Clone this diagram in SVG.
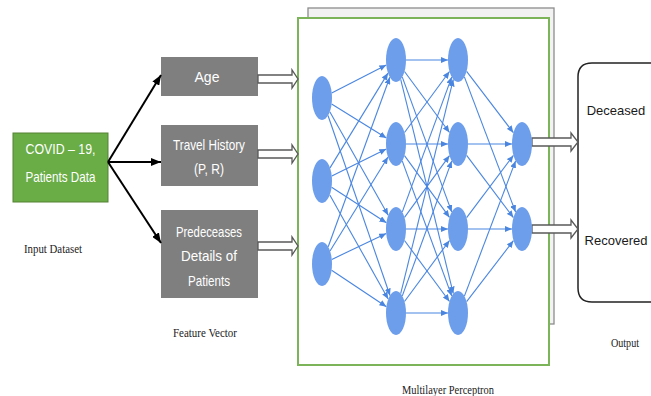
<svg xmlns="http://www.w3.org/2000/svg" width="651" height="396" viewBox="0 0 651 396">
<defs>
<style>
.box{fill:#7f7f7f;}
.bt{font-family:"Liberation Sans",Arial,sans-serif;font-size:15px;fill:#ffffff;text-anchor:middle;}
.lbl{font-family:"Liberation Serif","Times New Roman",serif;font-size:13px;fill:#222;text-anchor:middle;}
.out{font-family:"Liberation Sans",Arial,sans-serif;font-size:13px;fill:#1a1a1a;text-anchor:middle;}
.n{fill:#6d9eeb;}
.e{stroke:#4a86e0;stroke-width:1.1;fill:none;marker-end:url(#ba);}
.k{stroke:#000;stroke-width:2;fill:none;marker-end:url(#ka);}
.h{fill:#fff;stroke:#595959;stroke-width:1.3;}
</style>
<marker id="ba" markerUnits="userSpaceOnUse" markerWidth="7" markerHeight="6" refX="7" refY="3" orient="auto"><path d="M0,0 L7,3 L0,6 z" fill="#4a86e0"/></marker>
<marker id="ka" markerUnits="userSpaceOnUse" markerWidth="10" markerHeight="8" refX="10" refY="4" orient="auto"><path d="M0,0 L10,4 L0,8 z" fill="#000"/></marker>
</defs>
<rect width="651" height="396" fill="#fff"/>

<g id="mlp-back">
<rect x="308" y="8" width="246" height="316" fill="#f2f2f2" stroke="#8c8c8c" stroke-width="1.3"/>
</g>
<g id="mlp-frame">
<rect x="298" y="18" width="251" height="347" fill="#fff" stroke="#7cb45a" stroke-width="2"/>
</g>

<g id="input">
<rect x="13" y="133" width="95" height="69" fill="#6aac46" stroke="#548235" stroke-width="1"/>
<text class="bt" x="60.5" y="154" textLength="70" lengthAdjust="spacingAndGlyphs">COVID – 19,</text>
<text class="bt" x="60.5" y="182" textLength="70" lengthAdjust="spacingAndGlyphs">Patients Data</text>
</g>
<g id="age">
<rect class="box" x="161" y="57" width="97" height="39"/>
<text class="bt" x="207" y="82" textLength="25" lengthAdjust="spacingAndGlyphs">Age</text>
</g>
<g id="travel">
<rect class="box" x="161" y="125" width="97" height="61"/>
<text class="bt" x="209" y="150" textLength="72" lengthAdjust="spacingAndGlyphs">Travel History</text>
<text class="bt" x="209" y="174" textLength="30" lengthAdjust="spacingAndGlyphs">(P, R)</text>
</g>
<g id="pred">
<rect class="box" x="161" y="210" width="97" height="88"/>
<text class="bt" x="209" y="237" textLength="66" lengthAdjust="spacingAndGlyphs">Predeceases</text>
<text class="bt" x="209" y="261" textLength="56" lengthAdjust="spacingAndGlyphs">Details of</text>
<text class="bt" x="209" y="286" textLength="42" lengthAdjust="spacingAndGlyphs">Patients</text>
</g>
<g id="output">
<path d="M651,63 L592,63 Q578,63 578,77 L578,288 Q578,302 592,302 L651,302" fill="#fff" stroke="#222" stroke-width="1.5"/>
<text class="out" x="616" y="115">Deceased</text>
<text class="out" x="616" y="245">Recovered</text>
</g>

<g id="labels">
<text class="lbl" x="53" y="253" textLength="58" lengthAdjust="spacingAndGlyphs">Input Dataset</text>
<text class="lbl" x="205" y="337" textLength="64" lengthAdjust="spacingAndGlyphs">Feature Vector</text>
<text class="lbl" x="448" y="394" textLength="92" lengthAdjust="spacingAndGlyphs">Multilayer Perceptron</text>
<text class="lbl" x="625" y="347" textLength="28" lengthAdjust="spacingAndGlyphs">Output</text>
</g>

<g id="connectors">
<path class="k" d="M108,162 L161,75"/>
<path class="k" d="M108,162 L161,162"/>
<path class="k" d="M108,162 L161,243"/>

<path class="h" d="M258,75 L292,75 L292,70 L298,79 L292,88 L292,83 L258,83 z"/>
<path class="h" d="M258,150 L292,150 L292,145 L298,154 L292,163 L292,158 L258,158 z"/>
<path class="h" d="M258,242 L292,242 L292,237 L298,246 L292,255 L292,250 L258,250 z"/>
<path class="h" d="M532,138 L571,138 L571,133 L578,142 L571,151 L571,146 L532,146 z"/>
<path class="h" d="M532,225 L571,225 L571,220 L578,229 L571,238 L571,233 L532,233 z"/>

<path class="e" d="M331.7,93 L386.3,65"/>
<path class="e" d="M331.6,104 L386.4,138"/>
<path class="e" d="M329.8,111.8 L388.2,215.2"/>
<path class="e" d="M328,115.5 L390,295.5"/>
<path class="e" d="M330,167.9 L388,73.1"/>
<path class="e" d="M331.8,176.1 L386.3,148.9"/>
<path class="e" d="M331.6,187.2 L386.4,222.8"/>
<path class="e" d="M329.8,194.9 L388.2,299.1"/>
<path class="e" d="M328.2,246.8 L389.8,77.2"/>
<path class="e" d="M330,251 L388,157"/>
<path class="e" d="M331.8,259.4 L386.2,233.6"/>
<path class="e" d="M331.6,270.3 L386.4,306.7"/>

<path class="e" d="M406,60 L448,60"/>
<path class="e" d="M404.5,71.5 L449.5,132.5"/>
<path class="e" d="M402.3,77.1 L451.7,211.9"/>
<path class="e" d="M400.7,79.4 L453.3,293.6"/>
<path class="e" d="M404.5,132.5 L449.5,71.5"/>
<path class="e" d="M406,144 L448,144"/>
<path class="e" d="M404.5,155.6 L449.5,217.4"/>
<path class="e" d="M402.3,161.1 L451.7,295.9"/>
<path class="e" d="M402.3,211.9 L451.7,77.1"/>
<path class="e" d="M404.5,217.4 L449.5,155.6"/>
<path class="e" d="M406,229 L448,229"/>
<path class="e" d="M404.5,240.5 L449.5,301.5"/>
<path class="e" d="M400.7,293.6 L453.3,79.4"/>
<path class="e" d="M402.3,295.9 L451.7,161.1"/>
<path class="e" d="M404.5,301.5 L449.5,240.5"/>
<path class="e" d="M406,313 L448,313"/>

<path class="e" d="M466.6,71.3 L513.4,132.7"/>
<path class="e" d="M464.4,76.9 L515.6,212.1"/>
<path class="e" d="M468,144 L512,144"/>
<path class="e" d="M466.6,155.4 L513.4,217.6"/>
<path class="e" d="M466.6,217.6 L513.4,155.4"/>
<path class="e" d="M468,229 L512,229"/>
<path class="e" d="M464.4,296.1 L515.6,160.9"/>
<path class="e" d="M466.6,301.7 L513.4,240.7"/>
</g>

<g id="layer1">
<ellipse class="n" cx="322" cy="98" rx="10" ry="22"/>
<ellipse class="n" cx="322" cy="181" rx="10" ry="22"/>
<ellipse class="n" cx="322" cy="264" rx="10" ry="22"/>
</g>
<g id="layer2">
<ellipse class="n" cx="396" cy="60" rx="10" ry="22"/>
<ellipse class="n" cx="396" cy="144" rx="10" ry="22"/>
<ellipse class="n" cx="396" cy="229" rx="10" ry="22"/>
<ellipse class="n" cx="396" cy="313" rx="10" ry="22"/>
</g>
<g id="layer3">
<ellipse class="n" cx="458" cy="60" rx="10" ry="22"/>
<ellipse class="n" cx="458" cy="144" rx="10" ry="22"/>
<ellipse class="n" cx="458" cy="229" rx="10" ry="22"/>
<ellipse class="n" cx="458" cy="313" rx="10" ry="22"/>
</g>
<g id="layer4">
<ellipse class="n" cx="522" cy="144" rx="10" ry="22"/>
<ellipse class="n" cx="522" cy="229" rx="10" ry="22"/>
</g>
</svg>
